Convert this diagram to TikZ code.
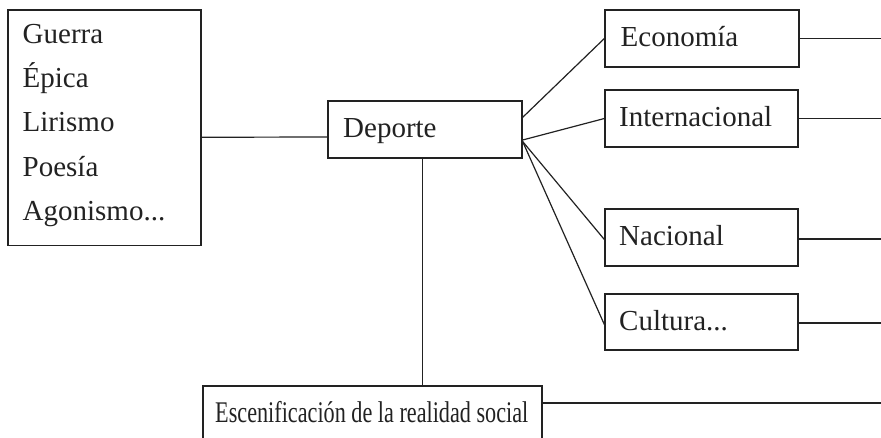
\documentclass[tikz,border=0pt]{standalone}
\usepackage{fontspec}
\usepackage{graphicx}
\setmainfont{Liberation Serif}
\usetikzlibrary{calc}
\definecolor{ink}{HTML}{222222}
\tikzset{
  box/.style={draw=ink, line width=1.3pt, rectangle, inner sep=0pt},
  txt/.style={anchor=base west, inner sep=0pt, text=ink, font=\fontsize{29}{34}\selectfont},
  conn/.style={draw=ink, line width=1.2pt}
}
\begin{document}
\begin{tikzpicture}[x=1pt,y=-1pt]
\clip (0,0) rectangle (881,437);
\fill[white] (0,0) rectangle (881,437);
% boxes
\node[box, minimum width=193pt, minimum height=235.5pt] (lbox) at (104.5,127.75) {};
\node[box, minimum width=194pt, minimum height=57pt] (dep) at (425,129.5) {};
\node[box, minimum width=194pt, minimum height=57pt] (eco) at (702,38.5) {};
\node[box, minimum width=193pt, minimum height=57pt] (int) at (701.5,118.5) {};
\node[box, minimum width=193pt, minimum height=57pt] (nac) at (701.5,237.5) {};
\node[box, minimum width=193pt, minimum height=56pt] (cul) at (701.5,322) {};
\node[box, minimum width=339pt, minimum height=70pt] (esc) at (372.5,421) {};
% texts
\node[txt] (t1) at (22.5,43) {Guerra};
\node[txt] (t2) at (22.5,87.5) {Épica};
\node[txt] (t3) at (22.5,131.5) {Lirismo};
\node[txt] (t4) at (22.5,176) {Poesía};
\node[txt] (t5) at (22.5,220) {Agonismo...};
\node[txt] (tdep) at (343,137) {Deporte};
\node[txt] (teco) at (620.5,46) {Economía};
\node[txt] (tint) at (619,126.5) {Internacional};
\node[txt] (tnac) at (619,245) {Nacional};
\node[txt] (tcul) at (619,330) {Cultura...};
\node[txt, font=\fontsize{30}{34}\selectfont] (tesc) at (215,422) {\scalebox{0.74}[1]{Escenificación de la realidad social}};
% free ends
\coordinate (reco) at (881,38.5);
\coordinate (rint) at (881,118.5);
\coordinate (rnac) at (881,239);
\coordinate (rcul) at (881,323);
\coordinate (resc) at (881,403);
% connectors
\draw[conn] ($(lbox.east)+(0,9.5)$) -- ($(dep.west)+(0,7.5)$);
\draw[conn] ($(dep.north east)+(0,17)$) -- (eco.west);
\draw[conn] ($(dep.east)+(0,10.5)$) -- (int.west);
\draw[conn] ($(dep.east)+(0,12)$) -- ($(nac.west)+(0,2)$);
\draw[conn] ($(dep.east)+(0,12)$) -- ($(cul.west)+(0,2.5)$);
\draw[conn] ($(dep.south)+(-2.3,0)$) coordinate (v) -- (v |- esc.north);
\draw[conn] (eco.east) -- (reco);
\draw[conn] (int.east) -- (rint);
\draw[conn] (nac.east |- rnac) -- (rnac);
\draw[conn] (cul.east |- rcul) -- (rcul);
\draw[conn] (esc.east |- resc) -- (resc);
\end{tikzpicture}
\end{document}
